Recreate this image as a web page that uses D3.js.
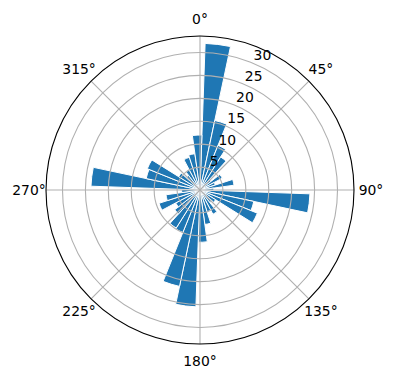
<!DOCTYPE html>
<html>
<head>
<meta charset="utf-8">
<script src="https://cdn.jsdelivr.net/npm/d3@7"></script>
<style>
  body { margin: 0; background: #fff; }
  svg text { font-family: "DejaVu Sans", sans-serif; }
</style>
</head>
<body>
<div id="chart"></div>
<script>
// Rosa polar: barras de 10°, zero no norte, sentido horário

// início de cada setor (graus)
const binStarts = [2, 12, 22, 32, 42, 52, 62, 72, 82, 92, 102, 112,
  122, 132, 142, 152, 162, 172, 182, 192, 202, 212, 222, 232,
  242, 252, 262, 272, 282, 292, 302, 312, 322, 332, 342, 352];
const binWidth = 10;

// comprimento das barras
const counts = [32, 15.5, 10.5, 8.5, 3, 5.5, 3.5, 7.5, 3, 24, 12, 13.5,
  4, 3.5, 6, 5, 7.6, 11.4, 25.5, 21.5, 10, 9.8, 7, 6,
  9.4, 7.5, 4, 23.8, 12, 12.4, 5.5, 4, 5, 7.5, 8, 12];

const radialTicks = [5, 10, 15, 20, 25, 30];
const angleTicks = [0, 45, 90, 135, 180, 225, 270, 315];
const rMax = 33.6;

const width = 396, height = 380;
const cx = 200, cy = 190, R = 154;

const svg = d3.select('#chart')
  .append('svg')
  .attr('width', width)
  .attr('height', height);

const g = svg.append('g')
  .attr('transform', `translate(${cx},${cy})`);

// Escalas
const r = d3.scaleLinear().domain([0, rMax]).range([0, R]);
const ang = d3.scaleLinear().domain([0, 360]).range([0, 2 * Math.PI]);

// Barras
const arc = d3.arc()
  .innerRadius(0)
  .outerRadius((d, i) => r(d))
  .startAngle((d, i) => ang(binStarts[i]))
  .endAngle((d, i) => ang(binStarts[i] + binWidth));

g.selectAll('.bar')
  .data(counts)
  .enter()
  .append('path')
  .attr('class', 'bar')
  .attr('d', (d, i) => arc(d, i))
  .attr('fill', '#1f77b4')
  .attr('stroke', '#ffffff')
  .attr('stroke-width', 1);

// Grade (por cima das barras)
g.selectAll('.rgrid')
  .data(radialTicks)
  .enter()
  .append('circle')
  .attr('r', d => r(d))
  .attr('fill', 'none')
  .attr('stroke', '#b0b0b0')
  .attr('stroke-width', 1.1);

g.selectAll('.agrid')
  .data(angleTicks)
  .enter()
  .append('line')
  .attr('x1', 0).attr('y1', 0)
  .attr('x2', d => R * Math.sin(ang(d)))
  .attr('y2', d => -R * Math.cos(ang(d)))
  .attr('stroke', '#b0b0b0')
  .attr('stroke-width', 1.1);

// Borda
g.append('circle')
  .attr('r', R)
  .attr('fill', 'none')
  .attr('stroke', '#000')
  .attr('stroke-width', 1.1);

// Rótulos angulares
g.selectAll('.alabel')
  .data(angleTicks)
  .enter()
  .append('text')
  .attr('x', d => 171 * Math.sin(ang(d)))
  .attr('y', d => -171 * Math.cos(ang(d)))
  .attr('text-anchor', 'middle')
  .attr('dominant-baseline', 'central')
  .style('font-size', '13.9px')
  .text(d => d + '°');

// Rótulos radiais a 22.5°
const la = ang(22.5);
g.selectAll('.rlabel')
  .data(radialTicks)
  .enter()
  .append('text')
  .attr('x', d => r(d) * Math.sin(la) + 1)
  .attr('y', d => -r(d) * Math.cos(la) - 3)
  .attr('text-anchor', 'start')
  .style('font-size', '13.9px')
  .text(d => d);
</script>
</body>
</html>
